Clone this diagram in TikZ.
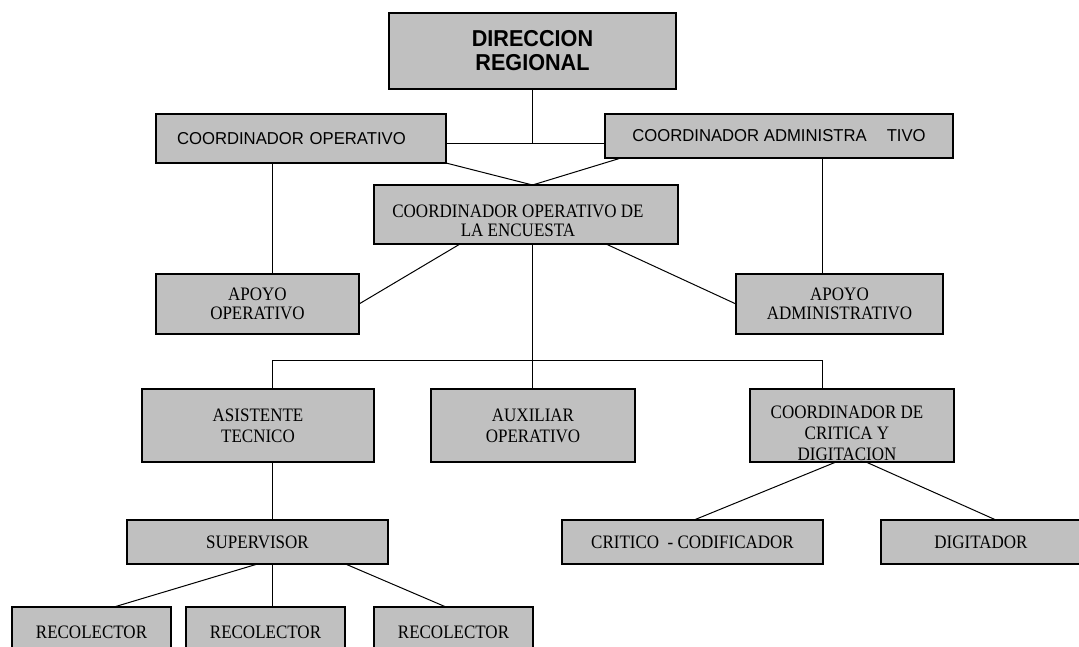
\documentclass[tikz,border=0pt]{standalone}
\usepackage{fontspec}
\newfontfamily\hsans[FakeStretch=0.97]{Liberation Sans}
\newfontfamily\hsansb[FakeStretch=0.94]{Liberation Sans Bold}
\newfontfamily\hserif[FakeStretch=0.895]{Liberation Serif}
\definecolor{boxgray}{RGB}{192,192,192}
\begin{document}
\begin{tikzpicture}[x=1pt,y=-1pt,
  box/.style={draw=black, line width=1.2pt, fill=boxgray, rectangle, inner sep=0pt, outer sep=0pt, align=center},
  sertext/.style={font=\hserif\fontsize{19}{21}\selectfont},
  sertextb/.style={font=\hserif\fontsize{19}{19}\selectfont},
  santext/.style={font=\hsans\fontsize{17.2}{19}\selectfont},
  boldtext/.style={font=\hsansb\fontsize{23}{24}\selectfont},
  lbl/.style={inner sep=0pt, align=center},
  conn/.style={line width=1pt, draw=black}]
\useasboundingbox (0,0) rectangle (1079,646);
% boxes
\node[box, boldtext, minimum width=287, minimum height=76] (dir) at (532.5,51) {DIRECCION\\REGIONAL};
\node[box, santext, minimum width=290, minimum height=49, text width=248, inner xsep=21, align=left] (cop) at (301,138.5) {COORDINADOR OPERATIVO};
\node[box, santext, minimum width=348, minimum height=44] (cad) at (779,136) {COORDINADOR ADMINISTRA\hspace{20pt}TIVO};
\node[box, minimum width=304, minimum height=59] (enc) at (526,214.5) {};
\node[lbl, sertextb, anchor=north] (enct) at (518,205) {COORDINADOR OPERATIVO DE\\LA ENCUESTA};
\node[box, sertextb, minimum width=203, minimum height=60] (apo) at (257.5,304) {APOYO\\OPERATIVO};
\node[box, sertextb, minimum width=207, minimum height=60] (apa) at (839.5,304) {APOYO\\ADMINISTRATIVO};
\node[box, sertext, minimum width=232, minimum height=73] (ast) at (258,425.5) {ASISTENTE\\TECNICO};
\node[box, sertext, minimum width=204, minimum height=73] (aux) at (533,425.5) {AUXILIAR\\OPERATIVO};
\node[box, minimum width=204, minimum height=73] (ccd) at (852,425.5) {};
\node[lbl, sertext, anchor=north] (ccdt) at (847,405.5) {COORDINADOR DE\\CRITICA Y\\DIGITACION};
\node[box, sertext, minimum width=261, minimum height=44] (sup) at (257.5,542) {SUPERVISOR};
\node[box, sertext, minimum width=261, minimum height=44] (cri) at (692.5,542) {CRITICO~~- CODIFICADOR};
\node[box, sertext, minimum width=200, minimum height=44] (dig) at (981,542) {DIGITADOR};
\node[box, sertext, minimum width=159, minimum height=50] (rec1) at (91.5,632) {RECOLECTOR};
\node[box, sertext, minimum width=159, minimum height=50] (rec2) at (265.5,632) {RECOLECTOR};
\node[box, sertext, minimum width=159, minimum height=50] (rec3) at (453.5,632) {RECOLECTOR};
% helper coordinates
\coordinate (j) at (532.5,143);
\coordinate (xl) at (272,0);
\coordinate (xr) at (822.5,0);
\coordinate (hb) at (532.5,360);
\path (cad.south west) ++(16,0) coordinate (cadp);
\path (enc.south west) ++(86,0) coordinate (encl);
\path (enc.south west) ++(232,0) coordinate (encr);
\path (ccd.south west) ++(86,0) coordinate (ccdl);
\path (ccd.south west) ++(116,0) coordinate (ccdr);
\path (dig.north west) ++(115,0) coordinate (digt);
\path (cri.north west) ++(132,0) coordinate (crit);
\path (rec1.north west) ++(102,0) coordinate (r1t);
\path (rec3.north west) ++(72,0) coordinate (r3t);
\path (sup.south west) ++(218.5,0) coordinate (supr);
% connectors
\draw[conn] (dir.south) -- (j);
\draw[conn] (cop.east |- j) -- (cad.west |- j);
\draw[conn] (cop.south east) -- (enc.north -| j);
\draw[conn] (cadp) -- (enc.north -| j);
\draw[conn] (cop.south -| xl) -- (apo.north -| xl);
\draw[conn] (cad.south -| xr) -- (apa.north -| xr);
\draw[conn] (encl) -- (apo.east);
\draw[conn] (encr) -- (apa.west);
\draw[conn] (enc.south -| j) -- (hb);
\draw[conn] (hb -| xl) -- (hb -| xr);
\draw[conn] (hb -| xl) -- (ast.north -| xl);
\draw[conn] (hb) -- (aux.north -| hb);
\draw[conn] (hb -| xr) -- (ccd.north -| xr);
\draw[conn] (ast.south -| xl) -- (sup.north -| xl);
\draw[conn] (ccdl) -- (crit);
\draw[conn] (ccdr) -- (digt);
\draw[conn] (sup.south) -- (r1t);
\draw[conn] (sup.south -| xl) -- (rec2.north -| xl);
\draw[conn] (supr) -- (r3t);
\end{tikzpicture}
\end{document}
